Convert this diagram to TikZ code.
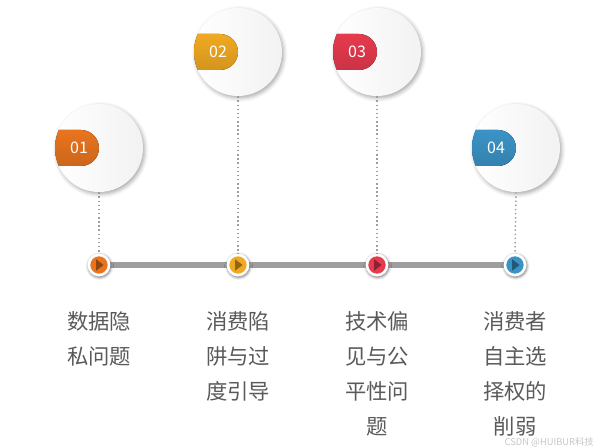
\documentclass[tikz,border=0pt]{standalone}
\usepackage{fontspec}
\newfontfamily\cjk{Noto Sans CJK SC}
\usetikzlibrary{shadows.blur, shapes.geometric}

\definecolor{tabA}{HTML}{E8741E}
\definecolor{tabB}{HTML}{F0A922}
\definecolor{tabC}{HTML}{E63A4E}
\definecolor{tabD}{HTML}{3A93C6}
\definecolor{linegray}{HTML}{9E9E9E}
\definecolor{textgray}{HTML}{5A5A5A}

\tikzset{
    bigdisc/.style={circle, minimum size=66pt, inner sep=0pt, left color=white, right color=gray!10,
        blur shadow={shadow xshift=1.2pt, shadow yshift=-1.5pt, shadow opacity=35, shadow blur radius=3pt}},
    dotring/.style={circle, minimum size=17pt, inner sep=0pt, fill=white,
        blur shadow={shadow xshift=0.5pt, shadow yshift=-0.8pt, shadow opacity=30, shadow blur radius=2pt}},
    dotcore/.style={circle, minimum size=13pt, inner sep=0pt},
    tip/.style={isosceles triangle, isosceles triangle apex angle=75, minimum size=5.5pt, inner sep=0pt},
    tabtext/.style={text=white, font=\fontsize{12}{14}\cjk, inner sep=0pt},
    guide/.style={linegray, dotted, line width=1.1pt},
    caption/.style={text=textgray, font=\fontsize{16}{26.3}\selectfont\cjk, align=center, anchor=north, inner sep=0pt}
}

\begin{document}
\begin{tikzpicture}[x=0.75pt, y=0.75pt]
    \useasboundingbox (0,0) rectangle (600,447);

    % Timeline
    \node[dotring] (d1) at (99,182) {};
    \node[dotring] (d2) at (238,182) {};
    \node[dotring] (d3) at (377,182) {};
    \node[dotring] (d4) at (515,182) {};
    \draw[linegray, line width=3.8pt] (d1.center) -- (d4.center);
    \node[dotring] at (d1) {};
    \node[dotring] at (d2) {};
    \node[dotring] at (d3) {};
    \node[dotring] at (d4) {};
    \node[dotcore, fill=tabA] (k1) at (d1) {};
    \node[dotcore, fill=tabB] (k2) at (d2) {};
    \node[dotcore, fill=tabC] (k3) at (d3) {};
    \node[dotcore, fill=tabD] (k4) at (d4) {};
    \node[tip, fill=tabA!60!black] at (k1) {};
    \node[tip, fill=tabB!60!black] at (k2) {};
    \node[tip, fill=tabC!60!black] at (k3) {};
    \node[tip, fill=tabD!60!black] at (k4) {};

    % Big circles
    \node[bigdisc] (c1) at (99,299) {};
    \node[bigdisc] (c2) at (238,395) {};
    \node[bigdisc] (c3) at (377,395) {};
    \node[bigdisc] (c4) at (516,299) {};

    % Guides from circles down to the timeline
    \draw[guide] (c1.south) -- (d1.north);
    \draw[guide] (c2.south) -- (d2.north);
    \draw[guide] (c3.south) -- (d3.north);
    \draw[guide] (c4.south) -- (d4.north);

    % Tabs
    \begin{scope}
        \clip (c1.center) circle (44);
        \fill[top color=tabA, bottom color=tabA!88!black] (49,317) -- (81,317) arc[start angle=90, end angle=-90, radius=18] -- (49,281) -- cycle;
    \end{scope}
    \begin{scope}
        \clip (c2.center) circle (44);
        \fill[top color=tabB, bottom color=tabB!88!black] (188,413) -- (220,413) arc[start angle=90, end angle=-90, radius=18] -- (188,377) -- cycle;
    \end{scope}
    \begin{scope}
        \clip (c3.center) circle (44);
        \fill[top color=tabC, bottom color=tabC!88!black] (327,413) -- (359,413) arc[start angle=90, end angle=-90, radius=18] -- (327,377) -- cycle;
    \end{scope}
    \begin{scope}
        \clip (c4.center) circle (44);
        \fill[top color=tabD, bottom color=tabD!88!black] (466,317) -- (498,317) arc[start angle=90, end angle=-90, radius=18] -- (466,281) -- cycle;
    \end{scope}
    \node[tabtext] (n1) at (79,299) {01};
    \node[tabtext] (n2) at (218,395) {02};
    \node[tabtext] (n3) at (357,395) {03};
    \node[tabtext] (n4) at (496,299) {04};

    % Captions
    \node[caption] (t1) at (99,136) {数据隐\\私问题};
    \node[caption] (t2) at (238,136) {消费陷\\阱与过\\度引导};
    \node[caption] (t3) at (377,136) {技术偏\\见与公\\平性问\\题};
    \node[caption] (t4) at (515,136) {消费者\\自主选\\择权的\\削弱};

    \node[text=gray!45, font=\fontsize{7}{8}\cjk, anchor=east, inner sep=0pt] (wm) at (594,5) {CSDN @HUIBUR科技};
\end{tikzpicture}
\end{document}
